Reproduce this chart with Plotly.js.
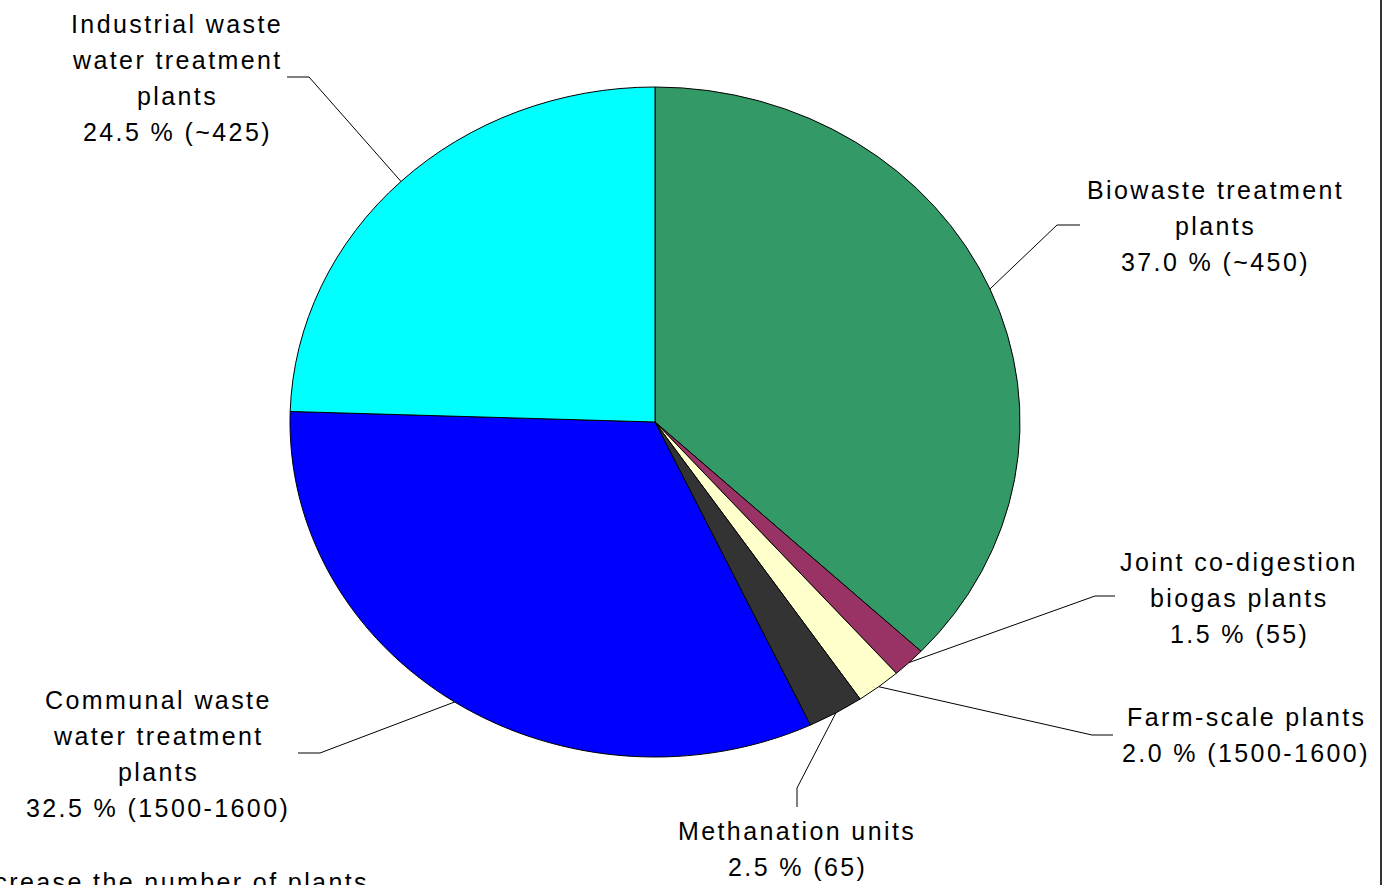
<!DOCTYPE html>
<html>
<head>
<meta charset="utf-8">
<script src="https://cdn.plot.ly/plotly-3.0.1.min.js"></script>
<style>
html, body { margin: 0; padding: 0; background: #ffffff; }
#chart { width: 1395px; height: 885px; }
.annotation-text { letter-spacing: 2.4px; }
.pielayer path { vector-effect: non-scaling-stroke; }
</style>
</head>
<body>
<div id="chart"></div>
<script>
// ---- data ----
const categories = [
  "Biowaste treatment plants",
  "Joint co-digestion biogas plants",
  "Farm-scale plants",
  "Methanation units",
  "Communal waste water treatment plants",
  "Industrial waste water treatment plants"
];
const shares = [37.0, 1.5, 2.0, 2.5, 32.5, 24.5];
const plantCounts = ["~450", "55", "1500-1600", "65", "1500-1600", "~425"];
const labelLines = [
  ["Biowaste treatment", "plants"],
  ["Joint co-digestion", "biogas plants"],
  ["Farm-scale plants"],
  ["Methanation units"],
  ["Communal waste", "water treatment", "plants"],
  ["Industrial waste", "water treatment", "plants"]
];
const footnote = "increase the number of plants";

// ---- styles / layout ----
const colors = ["#339966", "#993366", "#FFFFCC", "#333333", "#0000FF", "#00FFFF"];
const W = 1395, H = 885;
const CX = 655, CY = 422, RX = 365, RY = 335;   // pie ellipse (px)
const LINE_STEP = 36;
const FONT = "Liberation Sans, Arial, sans-serif";
const FONT_SIZE = 25;
const labelPos = [
  {x: 1215, y: 190}, {x: 1239, y: 562}, {x: 1246, y: 717},
  {x: 797, y: 831}, {x: 158, y: 700}, {x: 177, y: 24}
];
const leaderBends = [
  [[1057, 225], [1080, 225]],
  [[1095, 596], [1115, 596]],
  [[1092, 735], [1113, 735]],
  [[797, 788], [797, 807]],
  [[320, 753], [298, 753]],
  [[309, 77], [287, 77]]
];

const px = x => x / W;
const py = y => 1 - y / H;

const total = shares.reduce((a, b) => a + b, 0);
const annotations = [];
const shapes = [];
let cum = 0;
shares.forEach((v, i) => {
  const th = (cum + v / 2) / total * 2 * Math.PI;
  cum += v;
  const sx = CX + RX * Math.sin(th);
  const sy = CY - RY * Math.cos(th);
  const pts = [[sx, sy]].concat(leaderBends[i]);
  const d = pts.map((p, k) => (k ? "L" : "M") + px(p[0]) + "," + py(p[1])).join(" ");
  shapes.push({type: "path", xref: "paper", yref: "paper", path: d,
               line: {color: "#000000", width: 1}});
  const lines = labelLines[i].concat([v.toFixed(1) + " % (" + plantCounts[i] + ")"]);
  lines.forEach((t, k) => {
    annotations.push({
      xref: "paper", yref: "paper",
      x: px(labelPos[i].x), y: py(labelPos[i].y + k * LINE_STEP),
      xanchor: "center", yanchor: "middle",
      text: t, showarrow: false,
      font: {family: FONT, size: FONT_SIZE, color: "#000000"}
    });
  });
});

annotations.push({
  xref: "paper", yref: "paper", x: px(371), y: py(882),
  xanchor: "right", yanchor: "middle", text: footnote, showarrow: false,
  font: {family: FONT, size: FONT_SIZE, color: "#000000"}
});

shapes.push({type: "line", xref: "paper", yref: "paper",
  x0: px(1381), x1: px(1381), y0: 0, y1: 1,
  line: {color: "#333333", width: 2}});

const data = [{
  type: "pie",
  values: shares,
  labels: categories,
  sort: false,
  direction: "clockwise",
  rotation: 0,
  textinfo: "none",
  hoverinfo: "label+percent",
  showlegend: false,
  marker: {colors: colors, line: {color: "#000000", width: 1}},
  domain: {x: [px(CX - RY), px(CX + RY)], y: [py(CY + RY), py(CY - RY)]}
}];

const layout = {
  width: W, height: H,
  margin: {l: 0, r: 0, t: 0, b: 0, pad: 0},
  paper_bgcolor: "#ffffff",
  plot_bgcolor: "#ffffff",
  showlegend: false,
  font: {family: FONT, size: FONT_SIZE, color: "#000000"},
  annotations: annotations,
  shapes: shapes
};

Plotly.newPlot("chart", data, layout, {displayModeBar: false}).then(gd => {
  const g = gd.querySelector(".pielayer");
  if (g) {
    const prev = g.getAttribute("transform") || "";
    const s = RX / RY;
    g.setAttribute("transform",
      "translate(" + CX + ",0) scale(" + s + ",1) translate(" + (-CX) + ",0) " + prev);
  }
});
</script>
</body>
</html>
